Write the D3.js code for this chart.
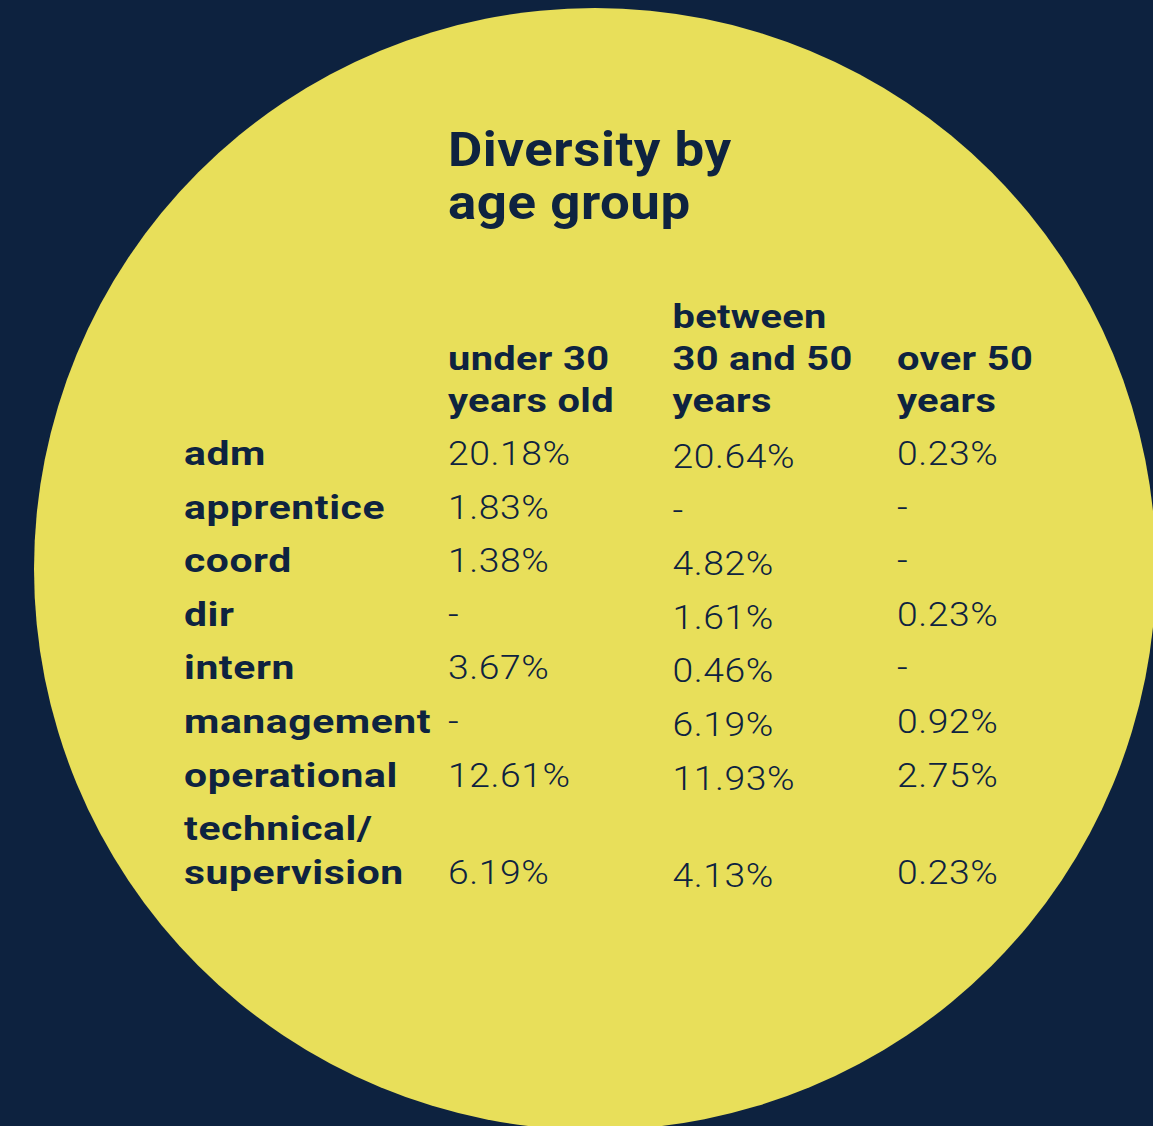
<!DOCTYPE html>
<html>
<head>
<meta charset="utf-8">
<title>Diversity by age group</title>
<style>
  html, body { margin: 0; padding: 0; background: #0d223f; overflow: hidden; }
  svg { display: block; }
  text { font-family: Roboto, "Noto Sans", sans-serif; fill: #0e2340; }
  .title { font-size: 48px; font-weight: 700; letter-spacing: 0.5px; }
  .head { font-size: 34px; font-weight: 700; letter-spacing: 0.3px; }
  .label { font-size: 34px; font-weight: 700; letter-spacing: 0.5px; }
  .value { font-size: 33px; font-weight: 300; letter-spacing: 0.5px; }
</style>
</head>
<body>
<div class="chart"></div>
<script src="https://d3js.org/d3.v7.min.js"></script>
<script>
// data
var titleLines = ["Diversity by", "age group"];
var groups = ["under30", "between30and50", "over50"];
var groupLabels = [["under 30", "years old"], ["between", "30 and 50", "years"], ["over 50", "years"]];
var roles = [["adm"], ["apprentice"], ["coord"], ["dir"], ["intern"], ["management"], ["operational"], ["technical/", "supervision"]];
var under30        = [20.18, 1.83, 1.38, null, 3.67, null, 12.61, 6.19];
var between30and50 = [20.64, null, 4.82, 1.61, 0.46, 6.19, 11.93, 4.13];
var over50         = [0.23, null, null, 0.23, null, 0.92, 2.75, 0.23];

var series = { under30: under30, between30and50: between30and50, over50: over50 };

var W = 1153, H = 1126;
var labelX = 184, headBase = 412, headLine = 42, rowLine = 44;
var colShift = { under30: 0, between30and50: 3, over50: 0 };
// the original face is wider than Roboto, so text is stretched a little
var labelStretch = 1.2, headStretch = 1.17, titleStretch = 1.1, valueStretch = 1.13;

var svg = d3.select(".chart").append("svg")
  .attr("width", W)
  .attr("height", H);

svg.append("rect")
  .attr("width", W).attr("height", H)
  .attr("fill", "#0d223f");

svg.append("circle")
  .attr("cx", 595).attr("cy", 569).attr("r", 561)
  .attr("fill", "#e8df5a");

var fmt = d3.format(".2f");
function show(v) { return v == null ? "-" : fmt(v) + "%"; }
function at(px, py, sx) { return "translate(" + px + "," + py + ") scale(" + sx + ",1)"; }

var rowKeys = roles.map(function(r) { return r.join(" "); });

var x = d3.scaleBand().domain(groups).range([448, 1121.5]).align(0);
var y = d3.scaleBand().domain(rowKeys).range([465, 465 + 53.6 * roles.length]).align(0);

// multi-line text helper
function lines(sel, step) {
  sel.selectAll("tspan")
    .data(function(d) { return d; })
    .enter().append("tspan")
    .attr("x", 0)
    .attr("dy", function(t, j) { return j ? step : 0; })
    .text(function(t) { return t; });
}

// title
svg.append("text")
  .datum(titleLines)
  .attr("class", "title")
  .attr("transform", at(448, 166, titleStretch))
  .call(lines, 53);

// column headers, bottom aligned
svg.selectAll(".head")
  .data(groupLabels)
  .enter().append("text")
  .attr("class", "head")
  .attr("transform", function(d, i) {
    return at(x(groups[i]), headBase - (d.length - 1) * headLine, headStretch);
  })
  .call(lines, headLine);

// rows
var row = svg.selectAll(".row")
  .data(roles)
  .enter().append("g")
  .attr("class", "row")
  .attr("transform", function(d, i) { return "translate(0," + y(rowKeys[i]) + ")"; });

row.append("text")
  .attr("class", "label")
  .attr("transform", at(labelX, 0, labelStretch))
  .call(lines, rowLine);

row.each(function(d, i) {
  var last = (d.length - 1) * rowLine;
  d3.select(this).selectAll(".value")
    .data(groups)
    .enter().append("text")
    .attr("class", "value")
    .attr("transform", function(g) { return at(x(g), last + colShift[g], valueStretch); })
    .text(function(g) { return show(series[g][i]); });
});
</script>
</body>
</html>
